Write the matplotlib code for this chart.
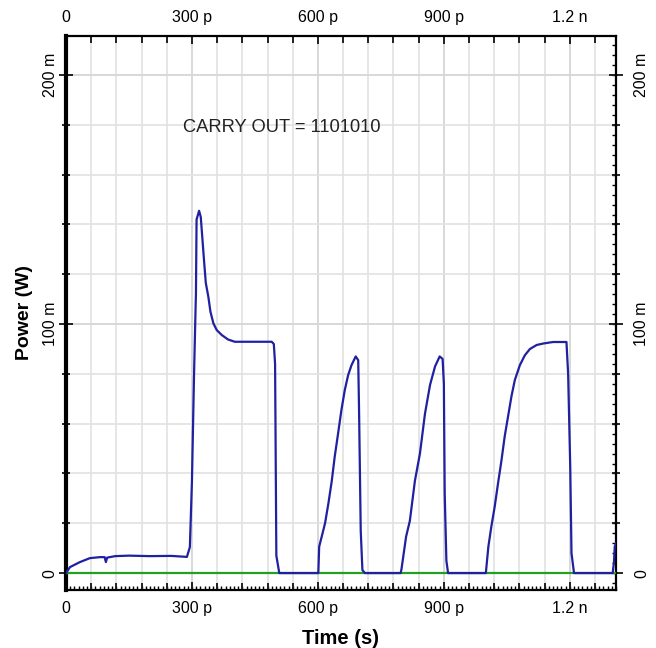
import matplotlib
matplotlib.use("Agg")
import matplotlib.pyplot as plt
from matplotlib.ticker import MultipleLocator, FixedLocator, NullLocator
from matplotlib.transforms import ScaledTranslation

plt.rcParams['font.family'] = ['Liberation Sans', 'DejaVu Sans']

# Time in ps, power in mW
t_ps = [0, 9.5, 33, 57, 81, 92, 95, 98, 117, 150, 200, 250, 288, 295, 300, 305, 309, 309.5,
        311, 317, 321, 325, 329, 333, 339, 344, 351, 359, 371, 386, 402, 490, 495, 498,
        501, 508,
        600, 601, 603, 609, 617, 625, 633, 640, 648, 656, 664, 672, 680, 690, 696, 698, 702, 706, 712,
        797, 799, 810, 819, 831, 843, 855, 867, 879, 890, 897, 900, 902, 906, 910,
        998, 1000, 1006, 1013, 1021, 1029, 1037, 1045, 1053, 1061, 1069, 1081, 1093, 1105, 1121, 1137,
        1160, 1192, 1196, 1201, 1204, 1210,
        1302, 1305, 1307, 1310]
p_mw = [0, 2.4, 4.4, 6.0, 6.4, 6.4, 4.4, 6.2, 6.8, 7.0, 6.8, 6.9, 6.5, 10.4, 37, 80, 109, 112,
        142, 145.5, 143, 134, 125, 116.5, 111, 105, 100.3, 97.6, 95.6, 93.8, 92.9, 92.9, 92, 84,
        7, 0,
        0, 0, 10.6, 14.6, 20, 28, 37, 46.7, 56, 65.5, 73.5, 79.5, 83.5, 87, 85.5, 65.5, 17, 1.2, 0,
        0, 1.5, 14.6, 21, 37, 48, 64, 75.5, 83, 87, 86, 76, 32, 5, 0,
        0, 0, 10.6, 18.6, 26.6, 36, 45, 55, 63, 71, 77.5, 83.5, 87.5, 90, 91.6, 92.2,
        92.8, 92.8, 80, 42.7, 8, 0,
        0, 4, 10.6, 12]

green_t = [0, 1310]
green_p = [0, 0]

x_ticks = [0, 300, 600, 900, 1200]
x_labels = ["0", "300 p", "600 p", "900 p", "1.2 n"]
y_ticks = [0, 100, 200]
y_labels = ["0", "100 m", "200 m"]

annotation = "CARRY OUT = 1101010"

fig = plt.figure(figsize=(6.56, 6.48), dpi=100)
W, H = 656, 648
left, right, top, bottom = 66, 616, 36, 590
ax = fig.add_axes([left / W, 1 - bottom / H, (right - left) / W, (bottom - top) / H])

ax.plot(green_t, green_p, color="#22a022", lw=1.6, zorder=3)
ax.plot(t_ps, p_mw, color="#2020a0", lw=1.6, zorder=4)

ax.set_xlim(0, 1310)
ax.set_ylim(-6.8, 215.7)

ax.xaxis.set_major_locator(FixedLocator(x_ticks))
ax.set_xticklabels(x_labels)
ax.xaxis.set_minor_locator(MultipleLocator(60))
ax.yaxis.set_major_locator(FixedLocator(y_ticks))
ax.set_yticklabels(y_labels)
ax.yaxis.set_minor_locator(MultipleLocator(20))

ax.grid(True, which="both", color="#e2e2e2", lw=1.2, zorder=0)
ax.grid(True, which="major", color="#d8d8d8", lw=1.4, zorder=0)
ax.set_axisbelow(True)

ax.tick_params(axis="x", which="both", top=True, bottom=True, labeltop=True, labelbottom=True,
               direction="in", labelsize=11.5, pad=8)
ax.tick_params(axis="x", which="major", length=6, width=1.2)
ax.tick_params(axis="x", which="minor", length=5, width=1.2)
ax.tick_params(axis="y", which="both", left=True, right=True, labelleft=True, labelright=True,
               direction="inout", labelsize=11.5, pad=1)
ax.tick_params(axis="y", which="major", length=10, width=1.2)
ax.tick_params(axis="y", which="minor", length=6, width=1.2)
shift = ScaledTranslation(10 / 100, 0, fig.dpi_scale_trans)
for tk in ax.yaxis.get_major_ticks():
    tk.label1.set_rotation(90)
    tk.label1.set_va("center")
    tk.label2.set_rotation(90)
    tk.label2.set_va("center")
    tk.label2.set_transform(tk.label2.get_transform() + shift)

# fine ticks along bottom and right spines
sx = ax.secondary_xaxis("bottom")
sx.xaxis.set_major_locator(NullLocator())
sx.xaxis.set_minor_locator(MultipleLocator(10))
sx.tick_params(which="minor", direction="in", length=3, width=1.0, labelbottom=False)
sx.spines["bottom"].set_visible(False)
sy = ax.secondary_yaxis("right")
sy.yaxis.set_major_locator(NullLocator())
sy.yaxis.set_minor_locator(MultipleLocator(4))
sy.tick_params(which="minor", direction="in", length=3, width=1.0, labelright=False)
sy.spines["right"].set_visible(False)

for s in ["top", "right", "bottom"]:
    ax.spines[s].set_linewidth(1.6)
ax.spines["left"].set_linewidth(3)

ax.set_xlabel("Time (s)", fontsize=14.5, fontweight="bold", labelpad=9)
ax.set_ylabel("Power (W)", fontsize=14, fontweight="bold", labelpad=7)

ax.text(279, 179, annotation, fontsize=13.2, va="center", ha="left", color="#222222")

fig.savefig("out.png", dpi=100)
